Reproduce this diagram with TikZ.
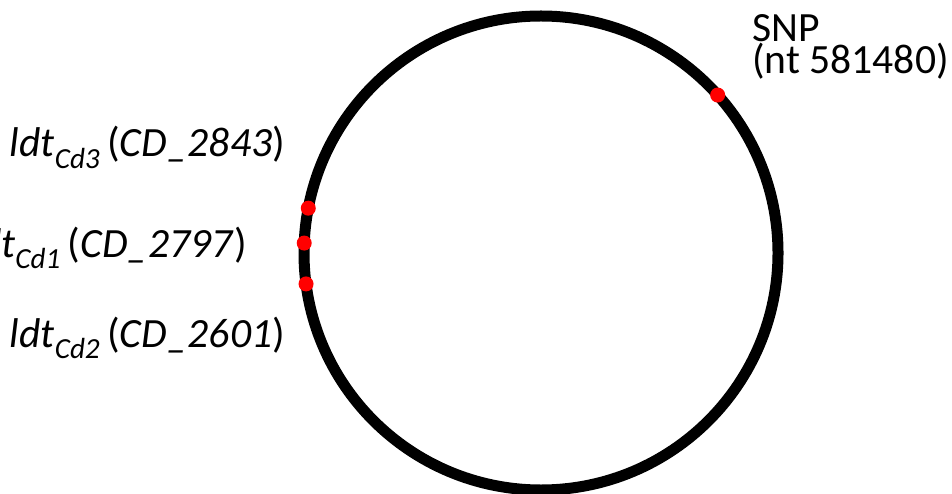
\documentclass[tikz,border=0pt]{standalone}
\usepackage{fontspec}
\setmainfont{Carlito}
\usetikzlibrary{calc}
\newcommand{\genelabel}[2]{\textit{ldt}\textsubscript{\textit{#1}}\,(\textit{CD\_#2})}
\begin{document}
\begin{tikzpicture}[x=1pt, y=1pt,
  site/.style={circle, fill=red, inner sep=0pt, minimum size=15pt},
  label text/.style={inner sep=0pt, font=\fontsize{41.6}{32}\selectfont}]
\useasboundingbox (0,0) rectangle (952,493);
\coordinate (c) at (541,240);
\draw[line width=11pt] (c) circle (237);

\node[site] (snpdot) at ($(c)+(41.8:237)$) {};
\node[site] (cd3dot) at ($(c)+(169.1:237)$) {};
\node[site] (cd1dot) at ($(c)+(177.6:237)$) {};
\node[site] (cd2dot) at ($(c)+(187.5:237)$) {};

\node[label text, anchor=base west, align=left] (snp) at (752,419) {SNP\\(nt 581480)};
\node[label text, anchor=base east] (cd3) at (285,336) {\genelabel{Cd3}{2843}};
\node[label text, anchor=base east] (cd1) at (247,236) {\genelabel{Cd1}{2797}};
\node[label text, anchor=base east] (cd2) at (285,146) {\genelabel{Cd2}{2601}};
\end{tikzpicture}
\end{document}
